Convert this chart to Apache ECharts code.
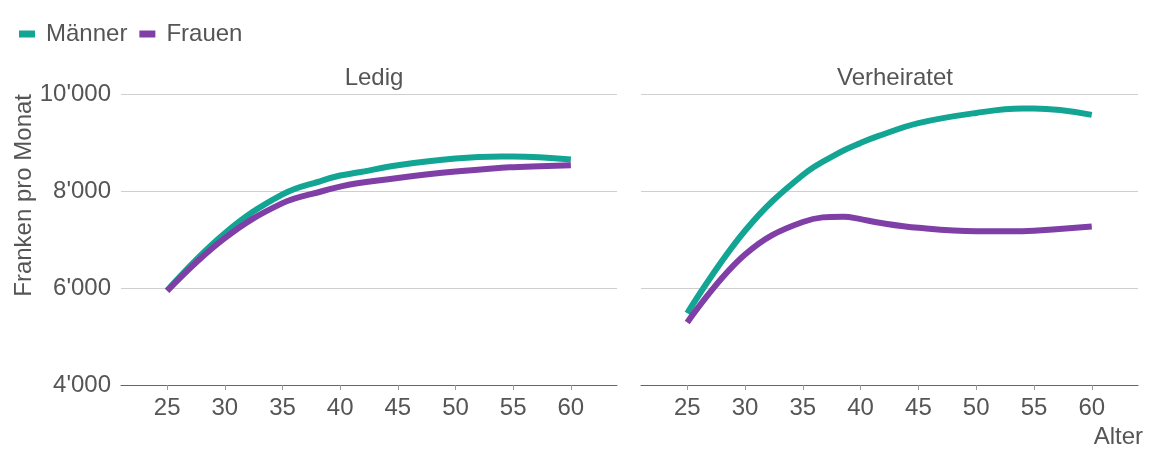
<!DOCTYPE html>
<html>
<head>
<meta charset="utf-8">
<script src="https://cdn.jsdelivr.net/npm/echarts@6/dist/echarts.min.js"></script>
<style>
  html, body { margin: 0; padding: 0; background: #fff; }
  #chart { width: 1152px; height: 460px; }
</style>
</head>
<body>
<div id="chart"></div>
<script>
  const ages = [25, 30, 35, 38.5, 40, 41.5, 45, 50, 54, 55, 60];

  // Ledig
  const ledigMaenner = [5950, 7130, 7930, 8220, 8320, 8380, 8530, 8670, 8710, 8710, 8650];
  const ledigFrauen = [5940, 7030, 7750, 8000, 8090, 8160, 8270, 8400, 8480, 8490, 8530];

  // Verheiratet
  const verhMaenner = [5480, 7180, 8330, 8830, 8990, 9130, 9400, 9610, 9700, 9700, 9570];
  const verhFrauen = [5290, 6690, 7360, 7470, 7420, 7350, 7240, 7170, 7170, 7180, 7270];

  const yTicks = [4000, 6000, 8000, 10000];
  const xTicks = [25, 30, 35, 40, 45, 50, 55, 60];

  const green = '#12a594';
  const purple = '#7f3fa7';
  const font = '"Liberation Sans", Arial, sans-serif';
  const textColor = '#555';
  const fs = 24;

  function pairs(arr) {
    return ages.map((a, i) => [a, arr[i]]);
  }

  function fmt(v) {
    return String(v).replace(/\B(?=(\d{3})+(?!\d))/g, "'");
  }

  const chart = echarts.init(document.getElementById('chart'));

  const xAxisBase = {
    type: 'value',
    min: 21,
    max: 64,
    interval: 1,
    axisLine: { show: true, lineStyle: { color: '#666', width: 1 } },
    axisTick: {
      show: true,
      length: 5,
      lineStyle: { color: '#999' },
      customValues: xTicks,
    },
    axisLabel: {
      color: textColor,
      fontFamily: font,
      fontSize: fs,
      margin: 11,
      customValues: xTicks,
    },
    splitLine: { show: false },
  };

  const yAxisBase = {
    type: 'value',
    min: 4000,
    max: 10000,
    interval: 2000,
    axisLine: { show: false },
    axisTick: { show: false },
    splitLine: { lineStyle: { color: '#cfcfcf', width: 1 } },
  };

  const lineBase = {
    type: 'line',
    smooth: 0.4,
    showSymbol: false,
    lineStyle: { width: 6, cap: 'butt' },
  };

  chart.setOption({
    animation: false,
    textStyle: { fontFamily: font },
    color: [green, purple],
    legend: {
      left: 14,
      top: 17,
      icon: 'rect',
      itemWidth: 16,
      itemHeight: 7,
      itemGap: 12,
      textStyle: { color: textColor, fontFamily: font, fontSize: fs, padding: [0, 0, 0, 6] },
      data: ['Männer', 'Frauen'],
    },
    title: [
      { text: 'Ledig', left: 369, top: 61, textAlign: 'center',
        textStyle: { color: textColor, fontFamily: font, fontSize: fs, fontWeight: 'normal' } },
      { text: 'Verheiratet', left: 890, top: 61, textAlign: 'center',
        textStyle: { color: textColor, fontFamily: font, fontSize: fs, fontWeight: 'normal' } },
    ],
    grid: [
      { left: 121, width: 496, top: 94, height: 291 },
      { left: 641, width: 497, top: 94, height: 291 },
    ],
    xAxis: [
      Object.assign({ gridIndex: 0 }, xAxisBase),
      Object.assign({ gridIndex: 1 }, xAxisBase),
    ],
    yAxis: [
      Object.assign({ gridIndex: 0 }, yAxisBase, {
        axisLabel: {
          color: textColor, fontFamily: font, fontSize: fs, margin: 10,
          formatter: fmt,
        },
      }),
      Object.assign({ gridIndex: 1 }, yAxisBase, { axisLabel: { show: false } }),
    ],
    graphic: [
      {
        type: 'text',
        left: 12,
        top: 94,
        rotation: Math.PI / 2,
        style: {
          text: 'Franken pro Monat',
          fill: textColor,
          font: fs + 'px ' + font,
        },
      },
      {
        type: 'text',
        right: 9,
        top: 425,
        style: {
          text: 'Alter',
          fill: textColor,
          font: fs + 'px ' + font,
        },
      },
    ],
    series: [
      Object.assign({}, lineBase, { name: 'Männer', xAxisIndex: 0, yAxisIndex: 0, data: pairs(ledigMaenner) }),
      Object.assign({}, lineBase, { name: 'Frauen', xAxisIndex: 0, yAxisIndex: 0, data: pairs(ledigFrauen) }),
      Object.assign({}, lineBase, { name: 'Männer', xAxisIndex: 1, yAxisIndex: 1, data: pairs(verhMaenner) }),
      Object.assign({}, lineBase, { name: 'Frauen', xAxisIndex: 1, yAxisIndex: 1, data: pairs(verhFrauen) }),
    ],
  });
</script>
</body>
</html>
